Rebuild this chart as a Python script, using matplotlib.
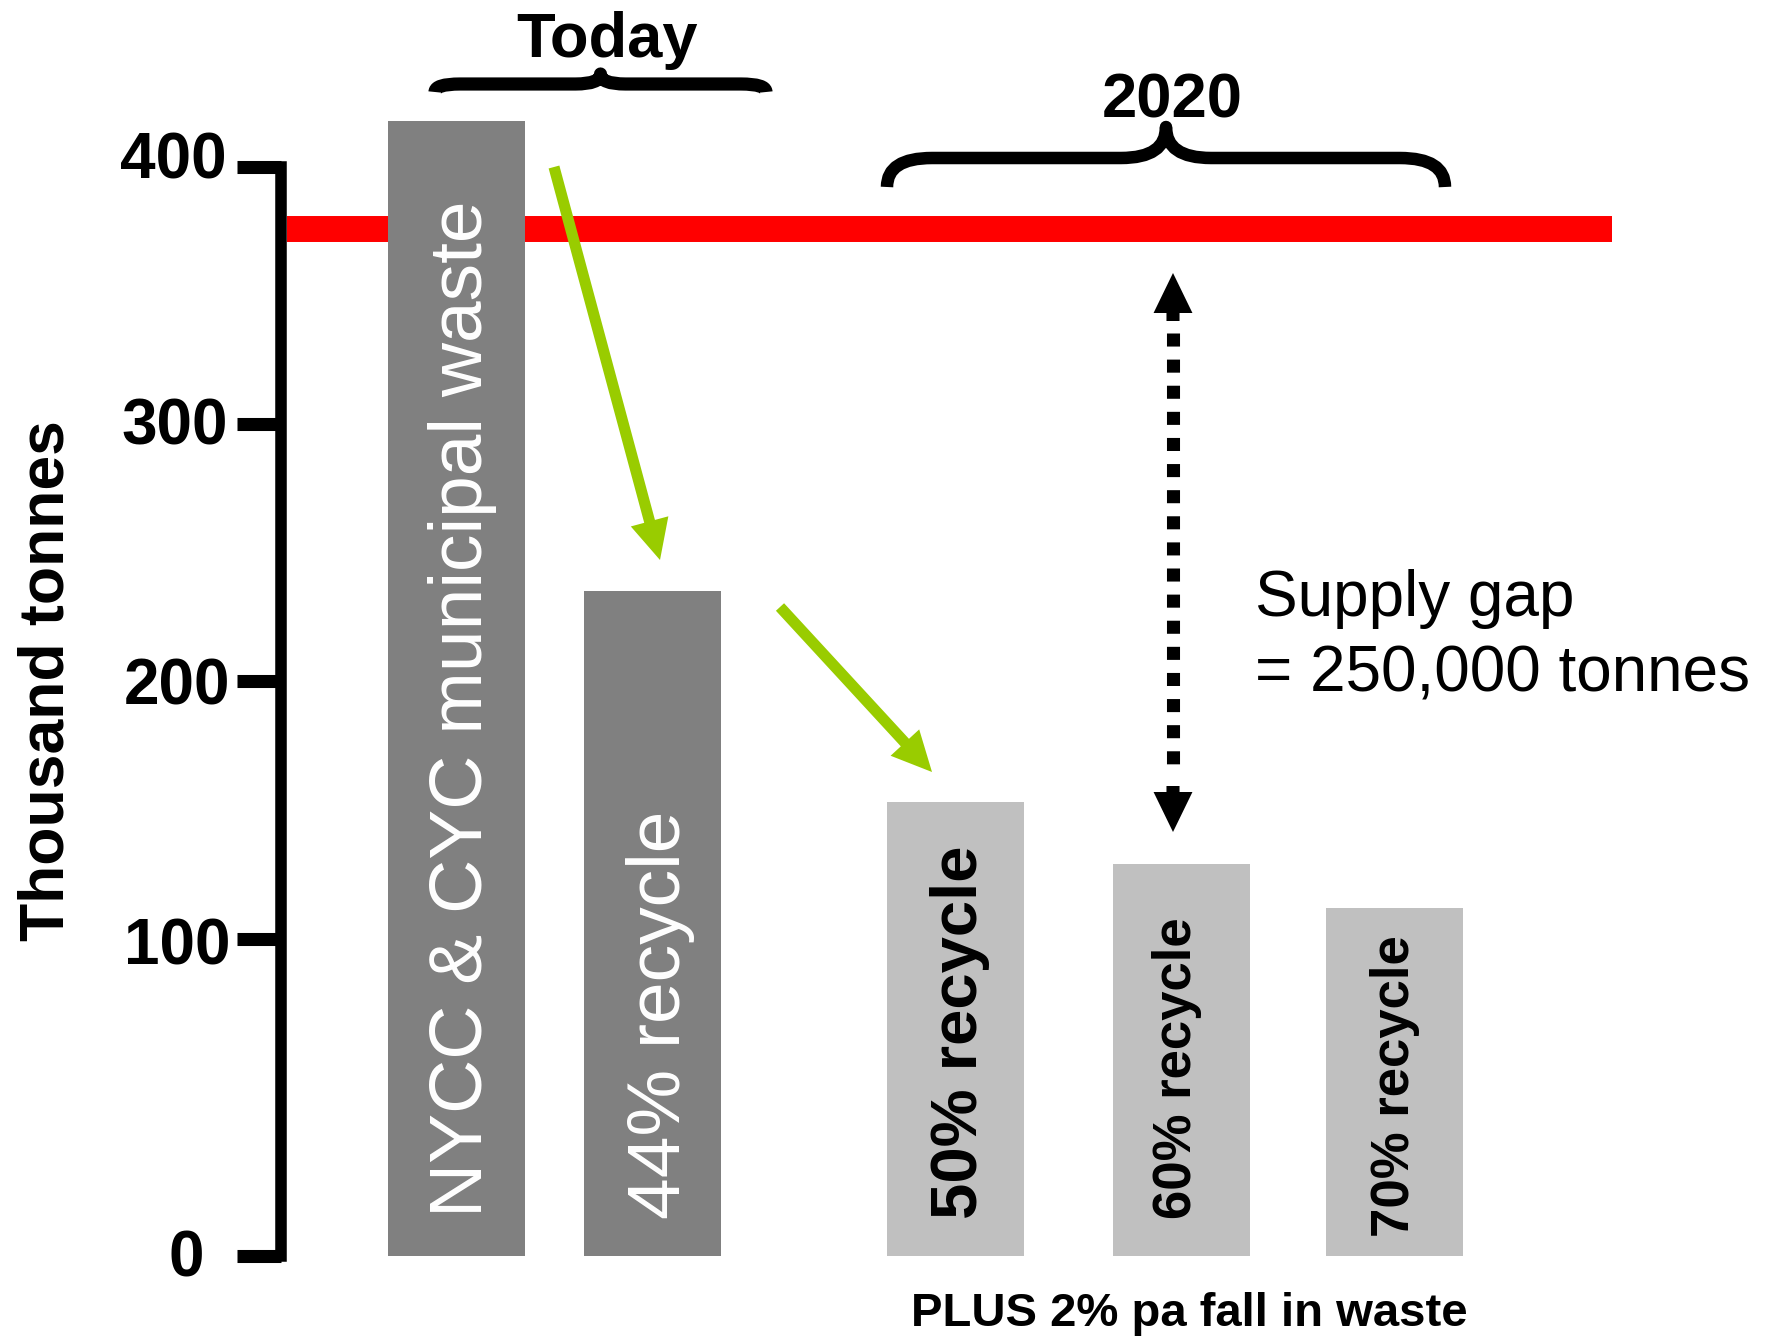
import matplotlib
matplotlib.use("Agg")
import matplotlib.pyplot as plt
import numpy as np
from matplotlib.path import Path
from matplotlib.patches import PathPatch, FancyArrowPatch, ArrowStyle
from matplotlib.transforms import offset_copy

plt.rcParams['font.family'] = ['Liberation Sans', 'DejaVu Sans']

# data (thousand tonnes)
labels = ["NYCC & CYC municipal waste", "44% recycle", "50% recycle", "60% recycle", "70% recycle"]
values = np.array([418, 235, 153, 129, 112])
supply = 376
floor = -23.6   # bars and the "0" tick sit at the bottom of the axis
yticks = [floor, 100, 200, 300, 400]
ytick_labels = ["0", "100", "200", "300", "400"]

# layout (pixel units across the figure)
W, H = 1773, 1338
bar_x = [456, 652, 955, 1181, 1394]
bar_w = 137
colors = ["#808080", "#808080", "#C0C0C0", "#C0C0C0", "#C0C0C0"]
lab_x = [482, 680, 977, 1191, 1409]      # baseline of rotated labels
lab_y0 = [1217, 1219, 1219, 1219, 1237]  # where each label starts
lab_size = [54, 54, 47, 38, 38]
lab_color = ["white", "white", "black", "black", "black"]
lab_weight = ["normal", "normal", "bold", "bold", "bold"]
tick_lab_x = [204, 230, 230, 228, 227]
tick_lab_dy = [20, 26, 23, 20, 11]

fig = plt.figure(figsize=(W / 100, H / 100), dpi=100)
ax = fig.add_axes([0, 0, 1, 1])
ax.set_xlim(0, W)
px = 2.5717        # pixels per thousand tonnes
zero_px = 1195.7   # pixel row of the value 0
ax.set_ylim((zero_px - H) / px, zero_px / px)
ax.patch.set_visible(False)

# red supply line behind bars
ax.hlines(supply, 287, 1612, color="red", lw=18.7, zorder=1)
ax.bar(bar_x, values - floor, bottom=floor, width=bar_w, color=colors, zorder=2)

for s in ["top", "right", "bottom"]:
    ax.spines[s].set_visible(False)
ax.spines["left"].set_position(("data", 281))
ax.spines["left"].set_bounds(floor, 400)
ax.spines["left"].set_linewidth(8.3)
ax.set_xticks([])
ax.set_yticks(yticks)
ax.tick_params(axis="y", length=32, width=9.4, labelleft=False)

for v, t, x, dy in zip(yticks, ytick_labels, tick_lab_x, tick_lab_dy):
    tr = offset_copy(ax.transData, fig=fig, y=-dy, units="dots")
    ax.text(x, v, t, transform=tr, ha="right", va="baseline",
            fontsize=46, fontweight="bold")

# overlay for annotations, pixel coords
ov = fig.add_axes([0, 0, 1, 1])
ov.set_xlim(0, W)
ov.set_ylim(H, 0)
ov.axis("off")

for i in range(len(labels)):
    ov.text(lab_x[i], lab_y0[i], labels[i], rotation=90,
            rotation_mode="anchor", ha="left", va="baseline",
            fontsize=lab_size[i], color=lab_color[i], fontweight=lab_weight[i])

ov.text(64, 681, "Thousand tonnes", rotation=90, rotation_mode="anchor",
        ha="center", va="baseline", fontsize=45, fontweight="bold")


def brace(x0, x1, y_end, y_bar, y_tip, r, lw):
    xm = (x0 + x1) / 2
    verts = [(x0, y_end), (x0, y_bar), (x0 + r, y_bar),
             (xm - r, y_bar), (xm, y_bar), (xm, y_tip),
             (xm, y_bar), (xm + r, y_bar),
             (x1 - r, y_bar), (x1, y_bar), (x1, y_end)]
    codes = [Path.MOVETO, Path.CURVE3, Path.CURVE3,
             Path.LINETO, Path.CURVE3, Path.CURVE3,
             Path.CURVE3, Path.CURVE3,
             Path.LINETO, Path.CURVE3, Path.CURVE3]
    ov.add_patch(PathPatch(Path(verts, codes), fill=False, lw=lw, color="black",
                           capstyle="butt", joinstyle="round"))


brace(435, 766, 92, 84, 74, 25, 9.5)
brace(887, 1445, 187, 158, 127, 45, 9)

ov.text(607, 57, "Today", fontsize=45.5, fontweight="bold", ha="center", va="baseline")
ov.text(1172, 118, "2020", fontsize=45.5, fontweight="bold", ha="center", va="baseline")


def arrow(p0, p1, color, hl, hw, tw):
    ov.add_patch(FancyArrowPatch(p0, p1, arrowstyle=ArrowStyle.Simple(head_length=hl / 10, head_width=hw / 10, tail_width=tw / 10),
                                 mutation_scale=10, color=color, lw=0, shrinkA=0, shrinkB=0))


green = "#99CC00"
arrow((554, 167), (660, 560), green, 28.8, 28, 8)
arrow((780, 607), (932, 772), green, 28.8, 28, 8)

# supply gap double arrow
arrow((1173, 321), (1173, 273), "black", 28.8, 28, 9.4)
arrow((1173, 786), (1173, 832), "black", 28.8, 28, 9.4)
ov.plot([1173, 1173], [333, 774], color="black", lw=9.4, ls=(0, (1, 1)), solid_capstyle="butt", dash_capstyle="butt")

ov.text(1255, 616, "Supply gap", fontsize=46, ha="left", va="baseline")
ov.text(1255, 692, "= 250,000 tonnes", fontsize=46, ha="left", va="baseline")
ov.text(1189, 1326, "PLUS 2% pa fall in waste", fontsize=34, fontweight="bold", ha="center", va="baseline")

fig.savefig("out.png", dpi=100)
